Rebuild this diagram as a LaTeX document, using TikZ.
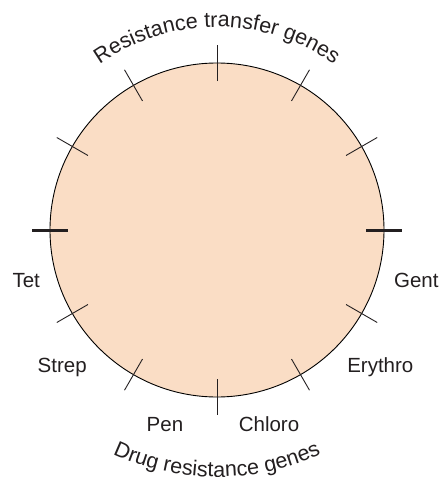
\documentclass[tikz,border=0pt]{standalone}
\usepackage{fontspec}
\setmainfont{Liberation Sans}
\usetikzlibrary{decorations.text}
\definecolor{plasmidfill}{RGB}{250,221,197}
\definecolor{inkgray}{RGB}{35,31,32}

\begin{document}
\begin{tikzpicture}[x=1pt,y=1pt,
  every node/.style={font=\fontsize{20.5}{24}\selectfont, text=inkgray, inner sep=0pt},
  ring/.style={draw=black, line width=0.9pt, fill=plasmidfill, circle, minimum size=334pt, inner sep=0pt},
  thintick/.style={draw=inkgray, line width=0.9pt},
  bigtick/.style={draw=inkgray, line width=3pt},
  arctext/.style={decorate, decoration={text along path, text align=center,
    text={|\fontsize{21.5}{26}\selectfont\color{inkgray}|#1}}}]
\useasboundingbox (-217pt,-247pt) rectangle (227pt,230pt);

% ---------------- plasmid ring ----------------
\node[ring] (plasmid) at (0,0) {};
\foreach \a in {30,60,90,120,150,210,240,270,300,330}
  \draw[thintick] (\a:149pt) -- (\a:185pt);
\foreach \a in {0,180}
  \draw[bigtick] (\a:149pt) -- (\a:185pt);

% ---------------- drug labels ----------------
\node[anchor=east] (tet) at (196:184pt) {Tet};
\node[anchor=east] (strep) at (226.5:189pt) {Strep};
\node (pen) at (255:201pt) {Pen};
\node (chloro) at (285:201pt) {Chloro};
\node[anchor=west] (erythro) at (313.5:189pt) {Erythro};
\node[anchor=west] (gent) at (344:184pt) {Gent};

% ---------------- curved group labels ----------------
\path[arctext={Resistance transfer genes}] (150:203pt) arc[start angle=150, end angle=30, radius=203pt];
\path[arctext={Drug resistance genes}] (210:247pt) arc[start angle=210, end angle=330, radius=247pt];
\end{tikzpicture}
\end{document}
